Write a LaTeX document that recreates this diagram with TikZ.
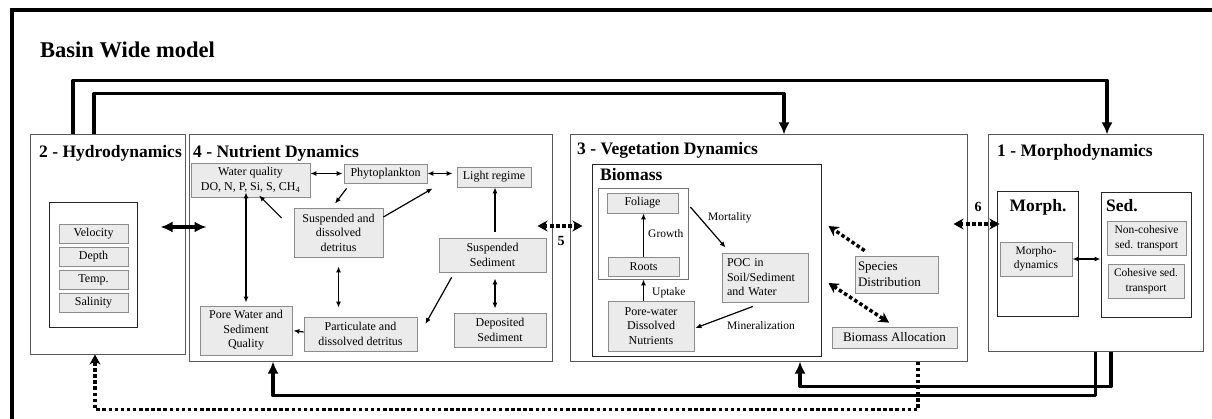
\documentclass[tikz,border=0pt]{standalone}
\usepackage{fontspec}
\setmainfont{Liberation Serif}
\usetikzlibrary{arrows.meta}

\tikzset{
  panel/.style={draw=black!65, line width=1pt, inner sep=0pt},
  frame/.style={draw=black!85, line width=1pt, inner sep=0pt},
  box/.style={draw=black!45, fill=black!8, line width=0.8pt, inner sep=0pt, align=center, font=\fontsize{12}{14.5}\selectfont},
  title/.style={anchor=base west, inner sep=0pt, font=\fontsize{17.5}{20}\selectfont\bfseries},
  note/.style={anchor=west, inner sep=0pt, font=\fontsize{11.5}{13}\selectfont},
  num/.style={inner sep=0pt, font=\fontsize{14}{16}\selectfont\bfseries},
  flow/.style={line width=1.2pt, -{Latex[length=6pt,width=5pt]}},
  both/.style={line width=1.2pt, {Latex[length=6pt,width=5pt]}-{Latex[length=6pt,width=5pt]}},
  bigflow/.style={line width=3.5pt, line join=round, -{Latex[length=12pt,width=11pt]}},
  bigboth/.style={line width=3.5pt, {Latex[length=12pt,width=11pt]}-{Latex[length=12pt,width=11pt]}},
  dotflow/.style={line width=3.5pt, dash pattern=on 3.5pt off 2.6pt, -{Stealth[length=10pt,width=11pt,inset=3pt]}},
  dotboth/.style={line width=3.5pt, dash pattern=on 3.5pt off 2.6pt, {Stealth[length=10pt,width=11pt,inset=3pt]}-{Stealth[length=10pt,width=11pt,inset=3pt]}},
}

\begin{document}
\begin{tikzpicture}[x=1pt,y=-1pt]
\useasboundingbox (0,0) rectangle (1212,419);

%Shape: Outer frame
\draw[line width=4pt] (12,430) -- (12,10) -- (1225,10);
% Text Node
\node[anchor=base west, inner sep=0pt, font=\fontsize{22.5}{26}\selectfont\bfseries] (basin) at (40,58) {Basin Wide model};

%Shape: Rectangle
\node[panel, minimum width=155pt, minimum height=219pt] (hydro) at (107.5,244.5) {};
%Shape: Rectangle
\node[panel, minimum width=363pt, minimum height=226pt] (nutr) at (370.5,248) {};
%Shape: Rectangle
\node[panel, minimum width=397pt, minimum height=226pt] (veg) at (768.5,248) {};
%Shape: Rectangle
\node[panel, minimum width=215pt, minimum height=216pt] (morph) at (1095.5,243) {};

% Text Node
\node[title] (hydrottl) at (39,158) {2 - Hydrodynamics};
% Text Node
\node[title] (nutrttl) at (193,158) {4 - Nutrient Dynamics};
% Text Node
\node[title] (vegttl) at (577,155) {3 - Vegetation Dynamics};
% Text Node
\node[title] (morphttl) at (997,157) {1 - Morphodynamics};

%Hydrodynamics
\node[frame, minimum width=88pt, minimum height=125pt] (hydin) at (93,265.5) {};
\node[box, minimum width=69pt, minimum height=19pt] (vel) at (93.5,233.5) {Velocity};
\node[box, minimum width=69pt, minimum height=19pt] (dep) at (93.5,256.5) {Depth};
\node[box, minimum width=69pt, minimum height=19pt] (tmp) at (93.5,279.5) {Temp.};
\node[box, minimum width=69pt, minimum height=19pt] (sal) at (93.5,302.5) {Salinity};

%Nutrient dynamics
\node[box, minimum width=119pt, minimum height=34pt] (wq) at (250.5,180) {Water quality\\DO, N, P, Si, S, CH\textsubscript{4}};
\node[box, minimum width=83pt, minimum height=19pt] (phyto) at (385.5,173.5) {Phytoplankton};
\node[box, minimum width=74pt, minimum height=20pt] (light) at (494,177) {Light regime};
\node[box, minimum width=89pt, minimum height=49pt] (susdet) at (338.5,232.5) {Suspended and\\dissolved\\detritus};
\node[box, minimum width=107pt, minimum height=34pt] (sussed) at (492.5,255) {Suspended\\Sediment};
\node[box, minimum width=92pt, minimum height=49pt] (pore) at (246,330.5) {Pore Water and\\Sediment\\Quality};
\node[box, minimum width=113pt, minimum height=34pt] (partdet) at (360.5,334) {Particulate and\\dissolved detritus};
\node[box, minimum width=92pt, minimum height=34pt] (depsed) at (500,330) {Deposited\\Sediment};

\draw[both, shorten >=1pt] (wq.east |- phyto.west) -- (phyto.west);
\draw[both, shorten >=4pt] (phyto.east) -- (phyto.east -| light.west);
\draw[flow] ([xshift=3pt,yshift=-5pt]phyto.south west) -- ([xshift=-3.5pt,yshift=4pt]susdet.north);
\draw[flow] ([yshift=15.5pt]susdet.east) -- ([xshift=-24pt,yshift=-1pt]light.south west);
\draw[flow] ([xshift=-12pt,yshift=14.5pt]susdet.west) -- ([xshift=8.5pt,yshift=2pt]wq.south);
\draw[both, shorten <=-5pt, shorten >=3pt] (pore.north |- wq.south) -- (pore.north);
\draw[both, shorten <=9pt, shorten >=9pt] (susdet.south) -- (susdet.south |- partdet.north);
\draw[flow, shorten >=1pt] ([yshift=2pt]partdet.west) -- (pore.east);
\draw[flow, shorten <=6pt] ([xshift=2.5pt]sussed.north) -- ([xshift=2.5pt]sussed.north |- light.south);
\draw[flow] ([xshift=13pt,yshift=-5pt]sussed.south west) -- ([xshift=8pt,yshift=10pt]partdet.east);
\draw[both, shorten <=6pt, shorten >=4pt] ([xshift=2.5pt]sussed.south) -- ([xshift=2.5pt]sussed.south |- depsed.north);

%Vegetation dynamics
\node[frame, minimum width=229pt, minimum height=191pt] (biomass) at (706.5,260.5) {};
\node[title] (biottl) at (600,181) {Biomass};
\node[panel, draw=black!55, line width=0.8pt, minimum width=90pt, minimum height=91pt] (plant) at (643,233.5) {};
\node[box, minimum width=71pt, minimum height=20pt] (foliage) at (642.5,203) {Foliage};
\node[box, minimum width=71pt, minimum height=19pt] (roots) at (643.5,266.5) {Roots};
\node[box, minimum width=86pt, minimum height=50pt] (porenut) at (651,326) {Pore-water\\Dissolved\\Nutrients};
\node[box, align=left, text width=76pt, minimum width=86pt, minimum height=49pt] (poc) at (765,277.5) {POC in\\Soil/Sediment\\and Water};
\node[box, align=left, text width=77pt, minimum width=83pt, minimum height=37pt, font=\fontsize{13}{15.5}\selectfont] (species) at (896.5,274.5) {Species\\Distribution};
\node[box, minimum width=125pt, minimum height=21pt, font=\fontsize{13}{15.5}\selectfont] (alloc) at (894.5,337.5) {Biomass Allocation};

% Text Node
\node[note] (growth) at (648,234) {Growth};
% Text Node
\node[note] (uptake) at (652,293) {Uptake};
% Text Node
\node[note] (mortality) at (708,218) {Mortality};
% Text Node
\node[note] (mineral) at (727,325.5) {Mineralization};

\draw[flow] (roots.north) -- (roots.north |- foliage.south);
\draw[flow] (roots.south |- porenut.north) -- (roots.south |- plant.south);
\draw[flow] ([xshift=12pt,yshift=-4pt]foliage.east) -- ([xshift=4pt,yshift=5pt]poc.north west);
\draw[flow] ([xshift=-12pt,yshift=-4pt]poc.south) -- ([xshift=1pt,yshift=-2pt]porenut.east);
\draw[dotflow] ([xshift=10pt,yshift=5pt]species.north west) -- ([xshift=7pt,yshift=34.5pt]biomass.east);
\draw[dotboth] ([xshift=7pt,yshift=-22.5pt]biomass.east) -- ([xshift=-5.5pt,yshift=4pt]alloc.north);

%Morphodynamics
\node[frame, minimum width=81pt, minimum height=125pt] (morphin) at (1037.5,254.5) {};
\node[frame, minimum width=90pt, minimum height=125pt] (sedin) at (1146,255.5) {};
\node[title, anchor=base] (morphinttl) at (1038,212) {Morph.};
\node[title] (sedttl) at (1106,212) {Sed.};
\node[box, minimum width=72pt, minimum height=34pt, font=\fontsize{11.5}{14.5}\selectfont] (morphdyn) at (1036,259) {Morpho-\\dynamics};
\node[box, minimum width=79pt, minimum height=34pt, font=\fontsize{11.5}{14.5}\selectfont] (noncoh) at (1146.5,238) {Non-cohesive\\sed. transport};
\node[box, minimum width=76pt, minimum height=34pt, font=\fontsize{11.5}{14.5}\selectfont] (coh) at (1146,281) {Cohesive sed.\\transport};
\draw[both] (morphdyn.east) -- (morphdyn.east -| sedin.west);

%Links between the models
\draw[bigboth] ([xshift=-25pt,yshift=17.5pt]hydro.east) -- ([xshift=18pt,yshift=21pt]nutr.west);
\draw[dotboth] ([xshift=-15pt,yshift=22pt]nutr.east) -- ([xshift=13pt,yshift=22pt]veg.west);
\node[num] (five) at (561,241) {5};
\draw[dotboth] ([xshift=-14pt,yshift=24pt]veg.east) -- ([xshift=12pt,yshift=19pt]morph.west);
\node[num] (six) at (978,207) {6};

\draw[bigflow] ([xshift=-34.5pt]hydro.north) |- ([xshift=11.5pt,yshift=54pt]morph.north) -- ([xshift=11.5pt]morph.north);
\draw[bigflow] ([xshift=-13.5pt]hydro.north) |- ([xshift=15.5pt,yshift=41pt]veg.north) -- ([xshift=15.5pt]veg.north);
\draw[bigflow] ([xshift=15.5pt]morph.south) |- ([xshift=31.5pt,yshift=-25pt]veg.south) -- ([xshift=31.5pt]veg.south);
\draw[bigflow] (morph.south) |- ([xshift=-97.5pt,yshift=-34pt]nutr.south) -- ([xshift=-97.5pt]nutr.south);
\draw[dotflow, line join=round] ([xshift=149.5pt]veg.south) |- ([xshift=-12.5pt,yshift=-55pt]hydro.south) -- ([xshift=-12.5pt]hydro.south);

\end{tikzpicture}
\end{document}
